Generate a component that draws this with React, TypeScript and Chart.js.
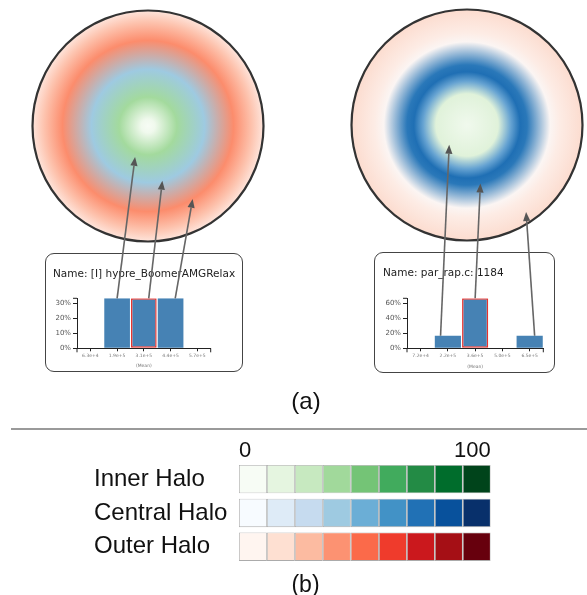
import React, { useEffect, useRef } from 'react';
import { Chart, registerables } from 'chart.js';
Chart.register(...registerables);

// ---- (a) histograms ----
const leftTitle = 'Name: [I] hypre_BoomerAMGRelax';
const leftBins = ['6.3e+4', '1.9e+5', '3.1e+5', '4.4e+5', '5.7e+5'];
const leftPercent = [0, 33.3, 33.3, 33.3, 0];
const leftSelected = 2;
const leftArrowBins = [1, 2, 3];
const leftArrowShift = [0, 0.19, 0.18];

const rightTitle = 'Name: par_rap.c: 1184';
const rightBins = ['7.2e+4', '2.2e+5', '3.6e+5', '5.0e+5', '6.5e+5'];
const rightPercent = [0, 16.7, 66.7, 0, 16.7];
const rightSelected = 2;
const rightArrowBins = [1, 2, 4];
const rightArrowShift = [-0.28, 0, 0.19];
const xAxisTitle = '(Mean)';

// ---- (a) halos: radial colour stops (fraction of radius, colour) ----
const leftHaloStops: [number, string][] = [
  [0, '#f7fcf5'],
  [0.06, '#f0f9ed'],
  [0.25, '#a3da9d'],
  [0.49, '#9ecae1'],
  [0.74, '#fc8c6c'],
  [0.9, '#fdc3ae'],
  [1, '#fee5dc'],
];
const rightHaloStops: [number, string][] = [
  [0, '#f0f9ed'],
  [0.27, '#e0f2da'],
  [0.38, '#66a3d2'],
  [0.46, '#1f6fb4'],
  [0.52, '#2a78b9'],
  [0.72, '#fbf5f3'],
  [0.8, '#fdece5'],
  [1, '#fcdccf'],
];
// arrow targets in the halos: ring (fraction of radius) and direction (degrees, y down)
const leftArrowRing = [0.29, 0.49, 0.74];
const leftArrowDeg = [112.7, 75.3, 58.5];
const rightArrowRing = [0.23, 0.52, 0.91];
const rightArrowDeg = [132, 77.1, 55.8];

// ---- (b) colour scales ----
const haloLabels = ['Inner Halo', 'Central Halo', 'Outer Halo'];
const scaleTicks = [0, 100];
const scaleBreaks = [0, 11.1, 22.2, 33.3, 44.4, 55.6, 66.7, 77.8, 88.9, 100];
const greens = ['#f7fcf5', '#e5f5e0', '#c7e9c0', '#a1d99b', '#74c476', '#41ab5d', '#238b45', '#006d2c', '#00441b'];
const blues = ['#f7fbff', '#deebf7', '#c6dbef', '#9ecae1', '#6baed6', '#4292c6', '#2171b5', '#08519c', '#08306b'];
const reds = ['#fff5f0', '#fee0d2', '#fcbba1', '#fc9272', '#fb6a4a', '#ef3b2c', '#cb181d', '#a50f15', '#67000d'];

const SANS = 'Liberation Sans, Arial, sans-serif';
const DEJA = 'DejaVu Sans, sans-serif';

const haloOutline = {
  id: 'haloOutline',
  afterDatasetsDraw(chart: any) {
    const arc = chart.getDatasetMeta(0).data[0];
    const p = arc.getProps(['x', 'y', 'outerRadius'], true);
    const ctx = chart.ctx;
    ctx.save();
    ctx.beginPath();
    ctx.arc(p.x, p.y, p.outerRadius, 0, Math.PI * 2);
    ctx.strokeStyle = '#333';
    ctx.lineWidth = 2.2;
    ctx.stroke();
    ctx.restore();
  },
};

const axisEnds = {
  id: 'axisEnds',
  afterDraw(chart: any) {
    const { ctx, chartArea: a } = chart;
    ctx.save();
    ctx.strokeStyle = '#222';
    ctx.lineWidth = 1;
    ctx.beginPath();
    ctx.moveTo(a.left, a.bottom);
    ctx.lineTo(a.left, a.bottom + 4);
    ctx.moveTo(a.right, a.bottom);
    ctx.lineTo(a.right, a.bottom + 4);
    ctx.moveTo(a.left, a.top);
    ctx.lineTo(a.left - 4, a.top);
    ctx.stroke();
    ctx.restore();
  },
};

function haloConfig(stops: [number, string][]): any {
  return {
    type: 'pie',
    data: {
      labels: ['halo'],
      datasets: [
        {
          data: [1],
          borderWidth: 0,
          backgroundColor: (c: any) => {
            const a = c.chart.chartArea;
            if (!a) return stops[0][1];
            const x = (a.left + a.right) / 2;
            const y = (a.top + a.bottom) / 2;
            const r = Math.min(a.right - a.left, a.bottom - a.top) / 2;
            const g = c.chart.ctx.createRadialGradient(x, y, 0, x, y, r);
            stops.forEach(([o, col]) => g.addColorStop(o, col));
            return g;
          },
        },
      ],
    },
    options: {
      responsive: false,
      animation: false,
      events: [],
      layout: { padding: 4.5 },
      plugins: { legend: { display: false }, tooltip: { enabled: false } },
    },
    plugins: [haloOutline],
  };
}

function histConfig(
  title: string,
  labels: string[],
  values: number[],
  selected: number,
  stepSize: number,
  pad: { left: number; right: number; titleTop: number; titleBottom: number; xHeight: number }
): any {
  return {
    type: 'bar',
    data: {
      labels,
      datasets: [
        {
          data: values,
          backgroundColor: '#4682b4',
          borderColor: (c: any) => (c.dataIndex === selected ? '#e8332e' : '#4682b4'),
          borderWidth: (c: any) => (c.dataIndex === selected ? 1.5 : 0),
          borderSkipped: false,
          barPercentage: 0.96,
          categoryPercentage: 1,
        },
      ],
    },
    options: {
      responsive: false,
      animation: false,
      events: [],
      layout: { padding: { left: pad.left, right: 0, top: 0, bottom: 0 } },
      plugins: {
        legend: { display: false },
        tooltip: { enabled: false },
        title: {
          display: true,
          text: title,
          align: 'start',
          color: '#222',
          font: { family: DEJA, size: 10.5, weight: 'normal', lineHeight: 1.2 },
          padding: { top: pad.titleTop, bottom: pad.titleBottom },
        },
      },
      scales: {
        x: {
          grid: { display: true, drawOnChartArea: false, offset: false, tickLength: 3, color: '#222' },
          border: { color: '#222', width: 1 },
          ticks: { font: { family: DEJA, size: 4.5 }, color: '#777', padding: 2, maxRotation: 0, autoSkip: false },
          title: { display: true, text: xAxisTitle, font: { family: DEJA, size: 4.5 }, color: '#777', padding: { top: 1, bottom: 3 } },
          afterFit: (s: any) => {
            s.height = pad.xHeight;
          },
        },
        y: {
          min: 0,
          max: Math.max(...values),
          ticks: {
            stepSize,
            includeBounds: false,
            callback: (v: any) => v + '%',
            font: { family: DEJA, size: 7 },
            color: '#555',
            padding: 2,
          },
          grid: { drawOnChartArea: false, tickLength: 4, color: '#222' },
          border: { color: '#222', width: 1 },
          afterFit: (s: any) => {
            s.width = 24;
          },
        },
        // empty right-hand gutter inside the box
        gutter: {
          type: 'linear',
          position: 'right',
          display: true,
          grid: { display: false, drawTicks: false },
          border: { display: false },
          ticks: { display: false },
          afterFit: (s: any) => {
            s.width = pad.right;
          },
        },
      },
    },
    plugins: [axisEnds],
  };
}

function scaleConfig(): any {
  return {
    type: 'bar',
    data: {
      labels: haloLabels,
      datasets: greens.map((_, i) => ({
        data: haloLabels.map(() => [scaleBreaks[i], scaleBreaks[i + 1]]),
        backgroundColor: [greens[i], blues[i], reds[i]],
        borderColor: 'rgba(0,0,0,0.33)',
        borderWidth: 0.8,
        borderSkipped: false,
        categoryPercentage: 0.84,
        barPercentage: 1,
        grouped: false,
      })),
    },
    options: {
      indexAxis: 'y',
      responsive: false,
      animation: false,
      events: [],
      layout: { padding: { left: 14, right: 9.3, top: 0, bottom: 0 } },
      plugins: { legend: { display: false }, tooltip: { enabled: false } },
      scales: {
        x: {
          position: 'top',
          min: 0,
          max: 100,
          afterBuildTicks: (s: any) => {
            s.ticks = scaleTicks.map((v) => ({ value: v }));
          },
          ticks: { align: 'inner', font: { family: SANS, size: 22, lineHeight: 1 }, color: '#111', padding: 0 },
          grid: { display: false, drawTicks: false },
          border: { display: false },
          afterFit: (s: any) => {
            s.height = 27.3;
          },
        },
        y: {
          ticks: { crossAlign: 'far', autoSkip: false, font: { family: SANS, size: 24, lineHeight: 1.2 }, color: '#111', padding: 0 },
          grid: { display: false, drawTicks: false },
          border: { display: false },
          afterFit: (s: any) => {
            s.width = 145;
          },
        },
      },
    },
  };
}

const POS = {
  leftHalo: { left: 28, top: 6, w: 240, h: 240 },
  rightHalo: { left: 347, top: 5, w: 240, h: 240 },
  leftHist: { left: 45, top: 253, w: 198, h: 119 },
  rightHist: { left: 374, top: 252, w: 181, h: 121 },
  scale: { left: 80, top: 435, w: 420, h: 143 },
};

function drawArrow(ctx: CanvasRenderingContext2D, x1: number, y1: number, x2: number, y2: number) {
  const ang = Math.atan2(y2 - y1, x2 - x1);
  const head = 9;
  const half = 3.6;
  const bx = x2 - head * Math.cos(ang);
  const by = y2 - head * Math.sin(ang);
  ctx.beginPath();
  ctx.moveTo(x1, y1);
  ctx.lineTo(bx, by);
  ctx.strokeStyle = '#666';
  ctx.lineWidth = 1.6;
  ctx.stroke();
  ctx.beginPath();
  ctx.moveTo(x2, y2);
  ctx.lineTo(bx + half * Math.sin(ang), by - half * Math.cos(ang));
  ctx.lineTo(bx - half * Math.sin(ang), by + half * Math.cos(ang));
  ctx.closePath();
  ctx.fillStyle = '#555';
  ctx.fill();
}

export default function App() {
  const lh = useRef<HTMLCanvasElement>(null);
  const rh = useRef<HTMLCanvasElement>(null);
  const lb = useRef<HTMLCanvasElement>(null);
  const rb = useRef<HTMLCanvasElement>(null);
  const sc = useRef<HTMLCanvasElement>(null);
  const ov = useRef<HTMLCanvasElement>(null);

  useEffect(() => {
    const charts: Chart[] = [];
    const leftHalo = new Chart(lh.current!, haloConfig(leftHaloStops));
    const rightHalo = new Chart(rh.current!, haloConfig(rightHaloStops));
    const leftHist = new Chart(
      lb.current!,
      histConfig(leftTitle, leftBins, leftPercent, leftSelected, 10, {
        left: 8,
        right: 32.3,
        titleTop: 15.2,
        titleBottom: 17.5,
        xHeight: 23.7,
      })
    );
    const rightHist = new Chart(
      rb.current!,
      histConfig(rightTitle, rightBins, rightPercent, rightSelected, 20, {
        left: 9,
        right: 11.7,
        titleTop: 15,
        titleBottom: 18.7,
        xHeight: 24.7,
      })
    );
    const scale = new Chart(sc.current!, scaleConfig());
    charts.push(leftHalo, rightHalo, leftHist, rightHist, scale);

    const ctx = ov.current!.getContext('2d')!;
    ctx.clearRect(0, 0, 587, 595);
    const pairs = [
      { halo: leftHalo, hp: POS.leftHalo, hist: leftHist, bp: POS.leftHist, bins: leftArrowBins, shift: leftArrowShift, ring: leftArrowRing, deg: leftArrowDeg },
      { halo: rightHalo, hp: POS.rightHalo, hist: rightHist, bp: POS.rightHist, bins: rightArrowBins, shift: rightArrowShift, ring: rightArrowRing, deg: rightArrowDeg },
    ];
    pairs.forEach((p) => {
      const arc: any = p.halo.getDatasetMeta(0).data[0];
      const a = arc.getProps(['x', 'y', 'outerRadius'], true);
      const cx = p.hp.left + a.x;
      const cy = p.hp.top + a.y;
      const bars: any[] = p.hist.getDatasetMeta(0).data as any[];
      p.bins.forEach((bi, k) => {
        const b = bars[bi].getProps(['x', 'y', 'width'], true);
        const tx = p.bp.left + b.x + p.shift[k] * b.width;
        const ty = p.bp.top + b.y;
        const rad = (p.deg[k] * Math.PI) / 180;
        const hx = cx + a.outerRadius * p.ring[k] * Math.cos(rad);
        const hy = cy + a.outerRadius * p.ring[k] * Math.sin(rad);
        drawArrow(ctx, tx, ty, hx, hy);
      });
    });

    return () => {
      charts.forEach((c) => c.destroy());
      ctx.clearRect(0, 0, 587, 595);
    };
  }, []);

  const abs = (p: { left: number; top: number; w: number; h: number }): React.CSSProperties => ({
    position: 'absolute',
    left: p.left,
    top: p.top,
    width: p.w,
    height: p.h,
  });

  return (
    <div style={{ position: 'absolute', left: 0, top: 0, width: 587, height: 595, background: '#fff', overflow: 'hidden' }}>
      <canvas ref={lh} width={POS.leftHalo.w} height={POS.leftHalo.h} style={abs(POS.leftHalo)} />
      <canvas ref={rh} width={POS.rightHalo.w} height={POS.rightHalo.h} style={abs(POS.rightHalo)} />
      <div style={{ ...abs(POS.leftHist), border: '1.3px solid #444', borderRadius: 9, boxSizing: 'border-box' }} />
      <div style={{ ...abs(POS.rightHist), border: '1.3px solid #444', borderRadius: 9, boxSizing: 'border-box' }} />
      <canvas ref={lb} width={POS.leftHist.w} height={POS.leftHist.h} style={abs(POS.leftHist)} />
      <canvas ref={rb} width={POS.rightHist.w} height={POS.rightHist.h} style={abs(POS.rightHist)} />
      <canvas ref={ov} width={587} height={595} style={{ position: 'absolute', left: 0, top: 0, width: 587, height: 595, pointerEvents: 'none' }} />
      <div style={{ position: 'absolute', left: 256, top: 388, width: 100, textAlign: 'center', fontFamily: SANS, fontSize: 24, lineHeight: '26px', color: '#111' }}>(a)</div>
      <div style={{ position: 'absolute', left: 11, top: 427.5, width: 576, height: 2, background: '#9a9a9a' }} />
      <canvas ref={sc} width={POS.scale.w} height={POS.scale.h} style={abs(POS.scale)} />
      <div style={{ position: 'absolute', left: 255.5, top: 572, width: 100, textAlign: 'center', fontFamily: SANS, fontSize: 23, lineHeight: '25px', color: '#111' }}>(b)</div>
    </div>
  );
}
